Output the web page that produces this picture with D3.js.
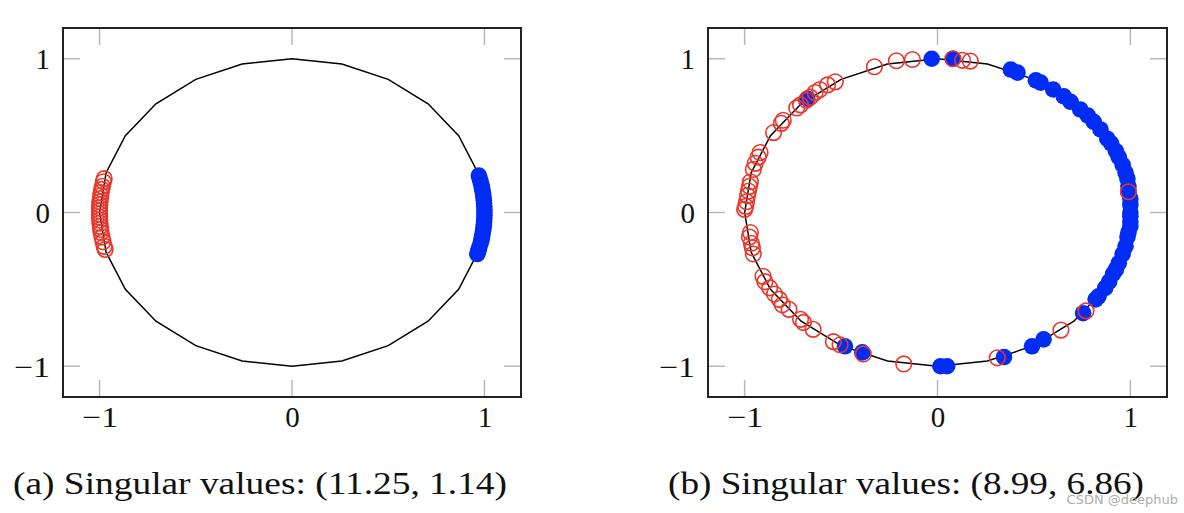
<!DOCTYPE html>
<html><head><meta charset="utf-8">
<script src="https://cdn.jsdelivr.net/npm/d3@7"></script>
<style>body{margin:0;background:#fff}svg{display:block}</style>
</head><body><svg id="c" width="1184" height="513"></svg>
<script>
// unit-circle reference polygon (24 segments)
const circleX = [1,0.966,0.866,0.707,0.5,0.259,0,-0.259,-0.5,-0.707,-0.866,-0.966,-1,-0.966,-0.866,-0.707,-0.5,-0.259,0,0.259,0.5,0.707,0.866,0.966,1];
const circleY = [0,0.259,0.5,0.707,0.866,0.966,1,0.966,0.866,0.707,0.5,0.259,0,-0.259,-0.5,-0.707,-0.866,-0.966,-1,-0.966,-0.866,-0.707,-0.5,-0.259,0];
const ticks = [-1,0,1];
const tickLabels = ["\u22121","0","1"];
const captions = ["(a) Singular values: (11.25, 1.14)", "(b) Singular values: (8.99, 6.86)"];

// panel (a)
const aRedX = [-0.976,-0.980,-0.985,-0.989,-0.992,-0.994,-0.996,-0.998,-0.999,-1.0,-1.0,-1.0,-1.0,-0.999,-0.998,-0.996,-0.994,-0.992,-0.987,-0.982,-0.976,-0.971];
const aRedY = [0.22,0.20,0.17,0.15,0.13,0.11,0.09,0.07,0.05,0.03,0.01,-0.01,-0.03,-0.05,-0.07,-0.09,-0.11,-0.13,-0.16,-0.19,-0.22,-0.24];
const aBlueX = [0.971,0.976,0.980,0.984,0.987,0.990,0.993,0.995,0.997,0.998,0.999,1.0,1.0,1.0,0.999,0.998,0.997,0.995,0.993,0.990,0.987,0.984,0.980,0.973,0.968,0.963];
const aBlueY = [0.24,0.22,0.20,0.18,0.16,0.14,0.12,0.10,0.08,0.06,0.04,0.02,0.0,-0.02,-0.04,-0.06,-0.08,-0.10,-0.12,-0.14,-0.16,-0.18,-0.20,-0.23,-0.25,-0.27];

// panel (b)
const bRedX = [-0.327,-0.213,-0.13,-0.53,-0.57,-0.61,-0.635,-0.66,-0.68,-0.71,-0.73,-0.80,-0.81,-0.85,-0.92,-0.93,-0.945,-0.955,-0.97,-0.975,-0.98,-0.985,-0.99,-0.995,-1.0,-0.97,-0.975,-0.965,-0.96,-0.955,-0.905,-0.895,-0.87,-0.845,-0.82,-0.805,-0.77,-0.71,-0.695,-0.645,-0.54,-0.505,-0.385,-0.175,0.08,0.13,0.17,0.99,0.77,0.64,0.31];
const bRedY = [0.948,0.987,0.995,0.85,0.83,0.80,0.78,0.75,0.73,0.70,0.68,0.60,0.58,0.52,0.39,0.36,0.32,0.28,0.20,0.17,0.14,0.11,0.07,0.04,0.02,-0.13,-0.16,-0.20,-0.23,-0.27,-0.415,-0.45,-0.49,-0.53,-0.565,-0.60,-0.63,-0.695,-0.715,-0.76,-0.84,-0.86,-0.92,-0.985,1.0,0.99,0.985,0.135,-0.64,-0.765,-0.945];
const bBlueX = [-0.675,-0.48,-0.39,0.015,0.05,-0.03,0.08,0.38,0.415,0.51,0.535,0.60,0.655,0.69,0.74,0.78,0.81,0.845,0.88,0.9,0.925,0.94,0.96,0.975,0.985,0.99,0.99,1.0,1.0,1.0,1.0,1.0,1.0,0.99,0.985,0.975,0.96,0.94,0.925,0.91,0.89,0.87,0.835,0.82,0.755,0.55,0.49,0.345];
const bBlueY = [0.74,-0.87,-0.91,-1.0,-1.0,1.0,1.0,0.93,0.91,0.86,0.845,0.80,0.755,0.72,0.67,0.63,0.59,0.54,0.48,0.45,0.40,0.36,0.31,0.26,0.22,0.17,0.135,0.09,0.05,0.0,-0.025,-0.06,-0.09,-0.13,-0.16,-0.22,-0.27,-0.33,-0.37,-0.40,-0.45,-0.49,-0.545,-0.565,-0.655,-0.825,-0.87,-0.94];

const RED = "#e8372b", BLUE = "#002cf4";
const svg = d3.select("#c");
const font = "'Liberation Serif','Times New Roman',serif";

const panels = [
  {x0:63, x1:521, redX:aRedX, redY:aRedY, blueX:aBlueX, blueY:aBlueY, cap:captions[0], capX:260, capW:494},
  {x0:708, x1:1167, redX:bRedX, redY:bRedY, blueX:bBlueX, blueY:bBlueY, cap:captions[1], capX:906, capW:476}
];
const plotTop = 28, plotBottom = 397;

panels.forEach(p => {
  const x = d3.scaleLinear().domain([-1.19, 1.19]).range([p.x0, p.x1]);
  const y = d3.scaleLinear().domain([-1.2, 1.2]).range([plotBottom, plotTop]);
  const g = svg.append("g");
  const tl = 17;
  const tickStyle = s => s.attr("stroke","#b8b8b8").attr("stroke-width",1.5);
  ticks.forEach(t => {
    g.append("line").attr("x1",x(t)).attr("x2",x(t)).attr("y1",plotBottom).attr("y2",plotBottom-tl).call(tickStyle);
    g.append("line").attr("x1",x(t)).attr("x2",x(t)).attr("y1",plotTop).attr("y2",plotTop+tl).call(tickStyle);
    g.append("line").attr("y1",y(t)).attr("y2",y(t)).attr("x1",p.x0).attr("x2",p.x0+tl).call(tickStyle);
    g.append("line").attr("y1",y(t)).attr("y2",y(t)).attr("x1",p.x1).attr("x2",p.x1-tl).call(tickStyle);
  });
  const xAxis = d3.axisBottom(x).tickValues(ticks).tickSize(0).tickPadding(9.5).tickFormat((d,i)=>tickLabels[i]);
  const yAxis = d3.axisLeft(y).tickValues(ticks).tickSize(0).tickPadding(13).tickFormat((d,i)=>tickLabels[i]);
  const gx = g.append("g").attr("transform",`translate(0,${plotBottom})`).call(xAxis);
  const gy = g.append("g").attr("transform",`translate(${p.x0},0)`).call(yAxis);
  [gx,gy].forEach(a => {
    a.select(".domain").remove();
    a.selectAll("text").attr("font-family",font).attr("font-size",29).attr("fill","#111")
      .each(function(d){ if (d < 0) d3.select(this).attr("textLength",36).attr("lengthAdjust","spacingAndGlyphs"); });
  });
  gx.selectAll("text").attr("dy","0.71em");
  gy.selectAll("text").attr("dy","0.34em");
  const line = d3.line().x(d=>x(d[0])).y(d=>y(d[1]));
  g.append("path").datum(circleX.map((v,i)=>[v,circleY[i]])).attr("d",line)
    .attr("fill","none").attr("stroke","#000").attr("stroke-width",1.5);
  g.selectAll(".b").data(p.blueX.map((v,i)=>[v,p.blueY[i]])).enter().append("circle")
    .attr("cx",d=>x(d[0])).attr("cy",d=>y(d[1])).attr("r",8.3).attr("fill",BLUE);
  g.selectAll(".r").data(p.redX.map((v,i)=>[v,p.redY[i]])).enter().append("circle")
    .attr("cx",d=>x(d[0])).attr("cy",d=>y(d[1])).attr("r",7.8)
    .attr("fill","none").attr("stroke",RED).attr("stroke-width",1.6);
  g.append("rect").attr("x",p.x0).attr("y",plotTop).attr("width",p.x1-p.x0).attr("height",plotBottom-plotTop)
    .attr("fill","none").attr("stroke","#222").attr("stroke-width",2);
  svg.append("text").attr("x",p.capX).attr("y",494).attr("text-anchor","middle")
    .attr("font-family",font).attr("font-size",31).attr("fill","#111")
    .attr("textLength",p.capW).attr("lengthAdjust","spacingAndGlyphs").text(p.cap);
});
svg.append("text").attr("x",1178).attr("y",504).attr("text-anchor","end")
  .attr("font-family","'DejaVu Sans',sans-serif").attr("font-size",13).attr("fill","#999").attr("opacity",0.8)
  .text("CSDN @deephub");
</script></body></html>
